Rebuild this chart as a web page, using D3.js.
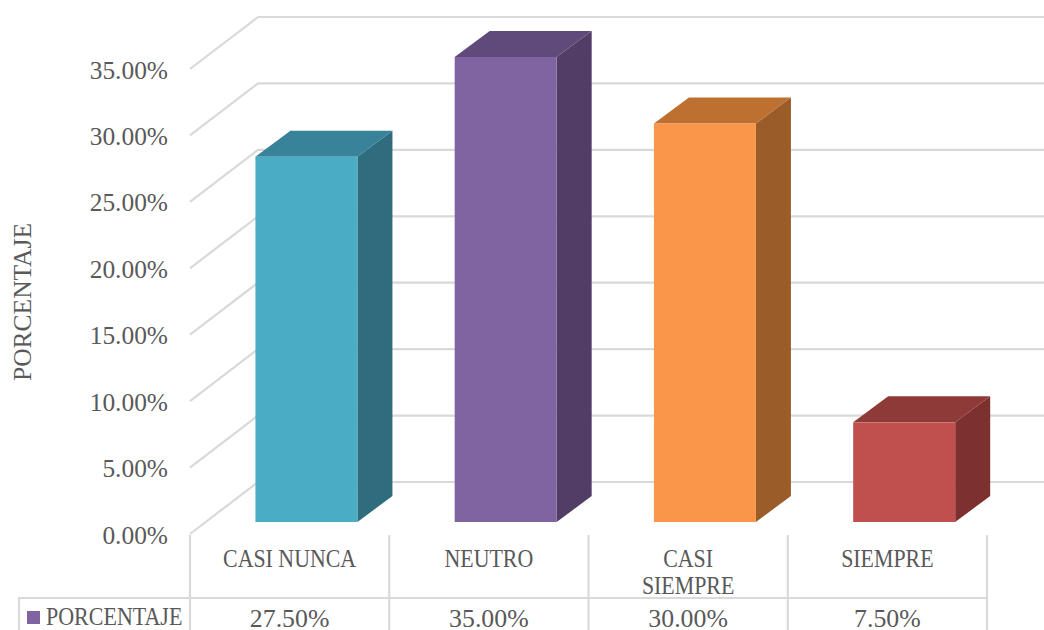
<!DOCTYPE html>
<html><head><meta charset="utf-8">
<script src="https://cdn.jsdelivr.net/npm/d3@7/dist/d3.min.js"></script>
<style>html,body{margin:0;padding:0;background:#fff}svg{display:block}text{font-family:"Liberation Serif",serif;fill:#595959}</style>
</head><body><svg id="c" width="1044" height="630"></svg>
<script>
const categories=["CASI NUNCA","NEUTRO","CASI SIEMPRE","SIEMPRE"];
const categoryLines=[["CASI NUNCA"],["NEUTRO"],["CASI","SIEMPRE"],["SIEMPRE"]];
const values=[27.5,35,30,7.5];
const valueLabels=["27.50%","35.00%","30.00%","7.50%"];
const ticks=[0,5,10,15,20,25,30,35];
const seriesName="PORCENTAJE";
const axisTitle="PORCENTAJE";
const frontColors=["#4BACC6","#8064A2","#FA964A","#C0504D"];
const topColors=["#388399","#604A7B","#BE7030","#8E3A38"];
const sideColors=["#2F6C7D","#513D66","#9A5C28","#7D312F"];

const svg=d3.select("#c");
const grid="#D9D9D9";
const x=d3.scaleBand().domain(categories).range([190,987]);
const y=d3.scaleLinear().domain([0,35]).range([534,69]);
const wallDx=68,wallDy=52,barShiftX=16.8,barShiftY=12,barW=102,barDx=35,barDy=26;
const squeeze=(sel,f)=>sel.each(function(){
  this.setAttribute("lengthAdjust","spacingAndGlyphs");
  this.setAttribute("textLength",this.getComputedTextLength()*f);
});

svg.append("g").selectAll("path.grid").data(ticks).join("path").attr("class","grid")
 .attr("fill","none").attr("stroke",grid).attr("stroke-width",2.2)
 .attr("d",d=>`M${x.range()[0]},${y(d)}L${x.range()[0]+wallDx},${y(d)-wallDy}L1044,${y(d)-wallDy}`);

categories.forEach((c,i)=>{
  const cx=x(c)+x.bandwidth()/2+barShiftX, l=cx-barW/2, r=cx+barW/2;
  const t=y(values[i])-barShiftY, b=y(0)-barShiftY;
  svg.append("path").attr("fill",sideColors[i]).attr("d",`M${r},${t}L${r+barDx},${t-barDy}L${r+barDx},${b-barDy}L${r},${b}Z`);
  svg.append("path").attr("fill",topColors[i]).attr("d",`M${l},${t}L${l+barDx},${t-barDy}L${r+barDx},${t-barDy}L${r},${t}Z`);
  svg.append("rect").attr("x",l).attr("y",t).attr("width",barW).attr("height",b-t).attr("fill",frontColors[i]);
});

svg.selectAll("text.tick").data(ticks).join("text").attr("class","tick")
 .attr("x",168).attr("y",d=>y(d)+9.5).attr("text-anchor","end").attr("font-size",25.4)
 .text(d=>d3.format(".2f")(d)+"%");

svg.append("text").attr("transform","translate(31,302) rotate(-90)").attr("text-anchor","middle").attr("font-size",26).text(axisTitle).call(squeeze,0.98);

const edges=[...categories.map(c=>x(c)),x.range()[1]];
svg.selectAll("line.v").data(edges).join("line").attr("class","v")
 .attr("x1",d=>d).attr("x2",d=>d).attr("y1",535).attr("y2",630).attr("stroke",grid).attr("stroke-width",2.2);
svg.append("path").attr("fill","none").attr("stroke",grid).attr("stroke-width",2.2).attr("d","M19,630V598H987");
svg.append("rect").attr("x",27).attr("y",611).attr("width",13).attr("height",13).attr("fill","#8064A2");
svg.append("text").attr("x",46).attr("y",625).attr("font-size",25).text(seriesName).call(squeeze,0.88);
categories.forEach((c,i)=>{
  const cx=x(c)+x.bandwidth()/2;
  categoryLines[i].forEach((s,j)=>svg.append("text").attr("x",cx).attr("y",566.5+j*27).attr("text-anchor","middle").attr("font-size",25).text(s).call(squeeze,0.875));
  svg.append("text").attr("x",cx).attr("y",627).attr("text-anchor","middle").attr("font-size",25.8).text(valueLabels[i]);
});
</script></body></html>
